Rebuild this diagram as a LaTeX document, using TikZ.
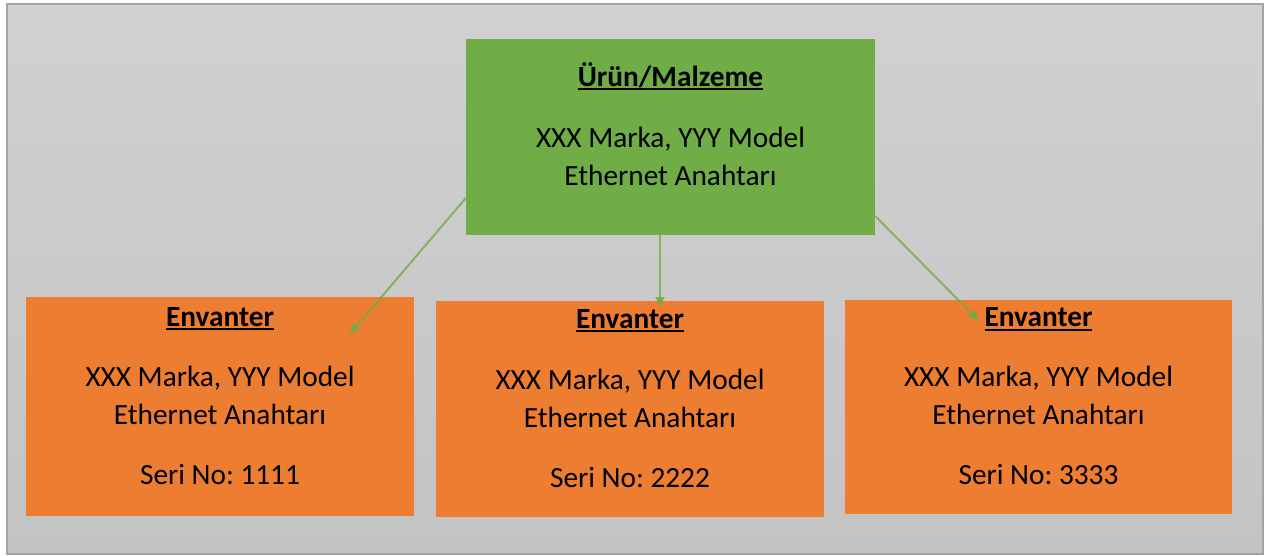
\documentclass[tikz,border=0pt]{standalone}
\usepackage{fontspec}
\setmainfont{Carlito}
\usetikzlibrary{arrows.meta}
\frenchspacing
\definecolor{urunyesil}{HTML}{70AD47}
\definecolor{envturuncu}{HTML}{ED7D31}
\definecolor{zemin1}{HTML}{D1D1D1}
\definecolor{zemin2}{HTML}{C3C3C3}
\definecolor{cerceve}{HTML}{A3A3A3}
\newcommand{\altcizgi}[1]{\setbox0\hbox{#1}\rlap{\rule[-4pt]{\wd0}{2pt}}\box0}
\tikzset{
  kutu/.style={rectangle, inner sep=0pt, minimum width=388pt, minimum height=218pt, fill=envturuncu},
  yazi/.style={anchor=north, inner sep=0pt, align=center, font=\fontsize{29.3}{38}\selectfont},
  ok/.style={draw=urunyesil, draw opacity=0.8, line width=2pt, -{Latex[length=12pt,width=10pt]}}
}
\begin{document}
\begin{tikzpicture}[x=1pt, y=-1pt]
    \useasboundingbox (0,0) rectangle (1266,555);
    \shadedraw[top color=zemin1, bottom color=zemin2, draw=cerceve, line width=2pt] (7,4) rectangle (1263,554);
    % urun ve envanter kutulari
    \node[kutu, fill=urunyesil, minimum width=409pt, minimum height=196pt] (urun) at (670.5,137) {};
    \node[kutu, minimum height=219pt] (env1) at (220,406.5) {};
    \node[kutu, minimum height=216pt] (env2) at (630,409) {};
    \node[kutu, minimum width=387pt, minimum height=214pt] (env3) at (1038.5,407) {};
    \node[yazi] (urunYazi) at ([yshift=-20.7pt]urun.north) {\strut\textbf{\altcizgi{Ürün/Malzeme}}\\[23pt]XXX Marka, YYY Model\\Ethernet Anahtarı};
    \node[yazi] (env1Yazi) at ([yshift=-2.7pt]env1.north) {\strut\textbf{\altcizgi{Envanter}}\\[22pt]XXX Marka, YYY Model\\Ethernet Anahtarı\\[22pt]Seri No: 1111};
    \node[yazi] (env2Yazi) at ([yshift=-0.7pt]env2.north) {\strut\textbf{\altcizgi{Envanter}}\\[23pt]XXX Marka, YYY Model\\Ethernet Anahtarı\\[22pt]Seri No: 2222};
    \node[yazi] (env3Yazi) at (env3.north) {\strut\textbf{\altcizgi{Envanter}}\\[22pt]XXX Marka, YYY Model\\Ethernet Anahtarı\\[22pt]Seri No: 3333};
    % oklar
    \coordinate (uc1) at (349,335);
    \coordinate (uc2) at (660,309);
    \coordinate (uc3) at (980,322);
    \draw[ok] ([yshift=-61pt]urun.west) -- (uc1);
    \draw[ok] ([xshift=-10.5pt]urun.south) -- (uc2);
    \draw[ok] ([yshift=-79pt]urun.east) -- (uc3);
\end{tikzpicture}
\end{document}
